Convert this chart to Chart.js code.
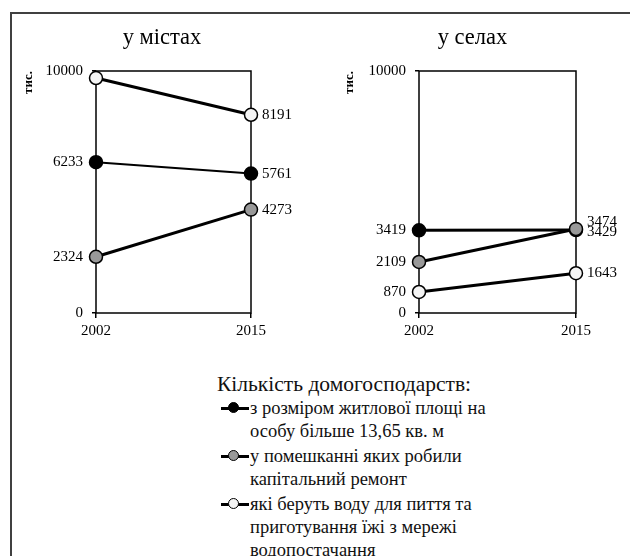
<!DOCTYPE html>
<html lang="uk">
<head>
<meta charset="utf-8">
<script src="https://cdn.jsdelivr.net/npm/chart.js@4.4.1/dist/chart.umd.min.js"></script>
<style>
body{margin:0;width:630px;height:556px;background:#fff;overflow:hidden;position:relative;font-family:"Liberation Serif","Times New Roman",serif;color:#111;}
.frame{position:absolute;left:10px;top:12px;width:640px;height:560px;border-top:2px solid #404040;border-left:2px solid #404040;}
#city{position:absolute;left:0;top:0;}
#village{position:absolute;left:315px;top:0;}
.legend{position:absolute;left:217px;top:371px;}
.legend .head{font-size:21.5px;line-height:26px;margin-bottom:0px;}
.item{position:relative;padding-left:33px;font-size:18.5px;line-height:23px;margin-bottom:2px;white-space:nowrap;}
.sym{position:absolute;left:4px;top:10px;width:28px;height:3px;background:#000;}
.sym i{position:absolute;left:7px;top:-5px;width:11px;height:11px;border:1.5px solid #000;border-radius:50%;box-sizing:border-box;}
</style>
</head>
<body>
<div class="frame"></div>
<canvas id="city" width="324" height="340"></canvas>
<canvas id="village" width="315" height="340"></canvas>

<div class="legend">
  <div class="head">Кількість домогосподарств:</div>
  <div class="item"><span class="sym"><i style="background:#000"></i></span>з розміром житлової площі на<br>особу більше 13,65 кв. м</div>
  <div class="item"><span class="sym"><i style="background:#999"></i></span>у помешканні яких робили<br>капітальний ремонт</div>
  <div class="item"><span class="sym"><i style="background:#f4f4f4"></i></span>які беруть воду для пиття та<br>приготування їжі з мережі<br>водопостачання</div>
</div>

<script>
const years = ['2002', '2015'];

// у містах
const cityArea = [6233, 5761];
const cityRepair = [2324, 4273];
const cityWater = [9710, 8191];
const cityTicks = [0, 2324, 6233, 10000];

// у селах
const villageArea = [3419, 3429];
const villageRepair = [2109, 3474];
const villageWater = [870, 1643];
const villageTicks = [0, 870, 2109, 3419, 10000];

const serif = '"Liberation Serif", "Times New Roman", serif';

// підписи значень біля точок 2015 року
const pointLabels = {
    id: 'pointLabels',
    afterDatasetsDraw(chart, args, opts) {
        const ctx = chart.ctx;
        ctx.save();
        ctx.font = '15px ' + serif;
        ctx.fillStyle = '#000';
        ctx.textBaseline = 'middle';
        chart.data.datasets.forEach((ds, i) => {
            const meta = chart.getDatasetMeta(i);
            const last = meta.data.length - 1;
            const pt = meta.data[last];
            ctx.fillText(String(ds.data[last]), pt.x + 11, pt.y + (opts.shift[i] || 0));
        });
        ctx.restore();
    }
};

// рамка області графіка
const frame = {
    id: 'frame',
    beforeDatasetsDraw(chart) {
        const {ctx, chartArea: a} = chart;
        ctx.save();
        ctx.strokeStyle = '#000';
        ctx.lineWidth = 1.5;
        ctx.strokeRect(a.left, a.top, a.right - a.left, a.bottom - a.top);
        ctx.restore();
    }
};

function series(data, fill, width, order) {
    return {
        data: data,
        borderColor: '#000',
        borderWidth: width,
        pointBackgroundColor: fill,
        pointBorderColor: '#000',
        pointBorderWidth: 1.5,
        pointRadius: 6.5,
        order: order,
        clip: false,
        yAxisID: 'y'
    };
}

function makeChart(id, title, area, repair, water, tickVals, axisWidth, titlePad, rightWidth, shift, areaWidth) {
    return new Chart(document.getElementById(id), {
        type: 'line',
        data: {
            labels: years,
            datasets: [
                series(area, '#000', areaWidth, 1),
                series(repair, '#999', 3, 0),
                series(water, '#f4f4f4', 3, 2)
            ]
        },
        options: {
            responsive: false,
            animation: false,
            events: [],
            layout: {padding: 0},
            plugins: {
                legend: {display: false},
                tooltip: {enabled: false},
                title: {
                    display: true,
                    text: title,
                    color: '#000',
                    font: {family: serif, size: 22.5, weight: 'normal'},
                    padding: {top: 25, bottom: 19}
                },
                pointLabels: {shift: shift}
            },
            scales: {
                x: {
                    offset: false,
                    grid: {drawOnChartArea: false, tickLength: 5, color: '#000', lineWidth: 1.5, offset: false},
                    border: {display: false},
                    ticks: {color: '#000', font: {family: serif, size: 15}, padding: 4, maxRotation: 0},
                    afterFit: s => { s.height = 27; }
                },
                y: {
                    min: 0,
                    max: 10000,
                    afterBuildTicks: s => { s.ticks = tickVals.map(v => ({value: v})); },
                    grid: {drawOnChartArea: false, tickLength: 4, color: '#000', lineWidth: 1.5},
                    border: {display: false},
                    ticks: {color: '#000', font: {family: serif, size: 15}, padding: 9, autoSkip: false,
                        callback: v => String(v)},
                    title: {display: true, text: 'тис.', align: 'end', color: '#000',
                        font: {family: serif, size: 13, weight: 'bold'}, padding: {top: titlePad, bottom: 0}},
                    afterFit: s => { s.width = axisWidth; }
                },
                // порожня вісь справа лишає місце для підписів
                y2: {
                    position: 'right',
                    min: 0,
                    max: 10000,
                    grid: {display: false},
                    border: {display: false},
                    ticks: {display: false},
                    afterFit: s => { s.width = rightWidth; }
                }
            }
        },
        plugins: [frame, pointLabels]
    });
}

makeChart('city', 'у містах', cityArea, cityRepair, cityWater, cityTicks, 96, 21, 73, [0, 0, 0], 2);
makeChart('village', 'у селах', villageArea, villageRepair, villageWater, villageTicks, 104, 27, 54, [2, -7, 0], 3);
</script>
</body>
</html>
